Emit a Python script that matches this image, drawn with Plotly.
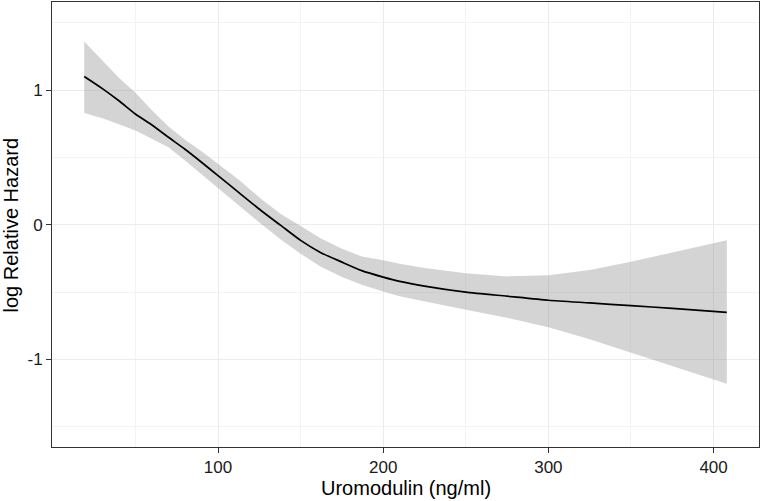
import plotly.graph_objects as go

# Uromodulin (ng/ml)
uromodulin = [19, 30, 40, 50, 60, 70, 80, 90, 100, 113, 126, 138, 150, 162, 175, 187,
              200, 210, 225, 250, 275, 300, 325, 350, 375, 408]
# log relative hazard (fit)
log_hr = [1.10, 1.01, 0.92, 0.822, 0.74, 0.649, 0.56, 0.464, 0.365, 0.235, 0.106, -0.005,
          -0.116, -0.205, -0.277, -0.34, -0.388, -0.42, -0.455, -0.50, -0.53, -0.56,
          -0.58, -0.60, -0.62, -0.65]
# upper confidence bound
upper = [1.36, 1.22, 1.09, 0.98, 0.85, 0.73, 0.63, 0.545, 0.452, 0.33, 0.193, 0.08,
         -0.01, -0.10, -0.178, -0.235, -0.264, -0.289, -0.32, -0.36, -0.383, -0.375,
         -0.335, -0.275, -0.205, -0.114]
# lower confidence bound
lower = [0.83, 0.79, 0.745, 0.70, 0.64, 0.575, 0.477, 0.38, 0.279, 0.14, 0.007, -0.11,
         -0.215, -0.31, -0.388, -0.445, -0.495, -0.53, -0.57, -0.63, -0.69, -0.76,
         -0.85, -0.95, -1.05, -1.18]

x_ticks = [100, 200, 300, 400]
y_ticks = [-1, 0, 1]
x_title = "Uromodulin (ng/ml)"
y_title = "log Relative Hazard"

fig = go.Figure()
fig.add_trace(go.Scatter(
    x=uromodulin + uromodulin[::-1],
    y=upper + lower[::-1],
    fill="toself",
    fillcolor="rgba(153,153,153,0.42)",
    line=dict(width=0),
    mode="lines",
    hoverinfo="skip",
    showlegend=False,
))
fig.add_trace(go.Scatter(
    x=uromodulin, y=log_hr, mode="lines",
    line=dict(color="black", width=1.7, shape="spline", smoothing=0.6),
    showlegend=False,
))

font_family = "Liberation Sans, Arial, Helvetica, sans-serif"
axis_common = dict(
    showgrid=True, gridcolor="#ebebeb", gridwidth=1.1,
    ticks="outside", ticklen=5, tickwidth=1, tickcolor="#333333",
    showline=True, linecolor="#333333", linewidth=1, mirror=True,
    zeroline=False, automargin=False,
    tickfont=dict(size=17, color="#1a1a1a"),
)
fig.update_layout(
    width=762, height=501,
    margin=dict(l=52, r=3, t=2, b=54),
    paper_bgcolor="white", plot_bgcolor="white",
    font=dict(family=font_family, color="#333333"),
    xaxis=dict(
        range=[-0.5, 427.5],
        tickvals=x_ticks, ticktext=[str(v) for v in x_ticks],
        minor=dict(dtick=50, tick0=0, showgrid=True, gridcolor="#f3f3f3", gridwidth=0.8, ticks=""),
        **axis_common,
    ),
    yaxis=dict(
        range=[-1.649, 1.653],
        tickvals=y_ticks, ticktext=[str(v) for v in y_ticks],
        minor=dict(dtick=0.5, tick0=0, showgrid=True, gridcolor="#f3f3f3", gridwidth=0.8, ticks=""),
        **axis_common,
    ),
    annotations=[
        dict(text=x_title, xref="paper", yref="paper", x=0.5, y=-0.092,
             xanchor="center", yanchor="middle", showarrow=False,
             font=dict(size=20, color="black")),
        dict(text=y_title, xref="paper", yref="paper", x=-0.058, y=0.5,
             xanchor="center", yanchor="middle", showarrow=False, textangle=-90,
             font=dict(size=20, color="black")),
    ],
)

fig.write_html(
    "out.html",
    config={"displayModeBar": False},
    post_script="document.body.style.margin='0';document.body.style.overflow='hidden';",
)
